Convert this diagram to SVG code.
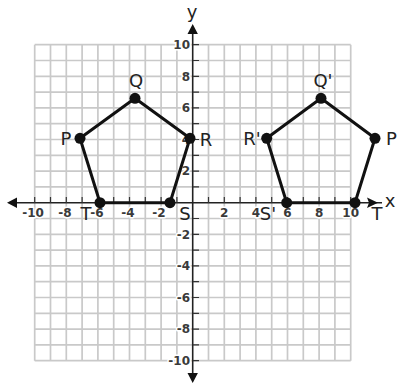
<svg xmlns="http://www.w3.org/2000/svg" width="399" height="388" viewBox="0 0 399 388">
<style>
.grid{stroke:#c9c9c9;stroke-width:1.7;fill:none}
.axis{stroke:#222;stroke-width:1.6;fill:none}
.tick{stroke:#333;stroke-width:1.2}
.num{font-family:"DejaVu Sans",sans-serif;font-size:12px;font-weight:bold;fill:#3a3a3a;stroke:#fff;stroke-width:3;paint-order:stroke;stroke-linejoin:round}
.lbl{font-family:"DejaVu Sans","Liberation Sans",sans-serif;font-size:18px;fill:#222}
.edge{stroke:#111;stroke-width:3;fill:none;stroke-linejoin:round}
.dot{fill:#111}
</style>
<rect width="399" height="388" fill="#fff"/>
<g id="grid">
<path class="grid" d="M34.7 44.7V360.7M50.5 44.7V360.7M66.3 44.7V360.7M82.1 44.7V360.7M97.9 44.7V360.7M113.7 44.7V360.7M129.5 44.7V360.7M145.3 44.7V360.7M161.1 44.7V360.7M176.9 44.7V360.7M208.5 44.7V360.7M224.3 44.7V360.7M240.1 44.7V360.7M255.9 44.7V360.7M271.7 44.7V360.7M287.5 44.7V360.7M303.3 44.7V360.7M319.1 44.7V360.7M334.9 44.7V360.7M350.7 44.7V360.7M34.7 44.7H350.7M34.7 60.5H350.7M34.7 76.3H350.7M34.7 92.1H350.7M34.7 107.9H350.7M34.7 123.7H350.7M34.7 139.5H350.7M34.7 155.3H350.7M34.7 171.1H350.7M34.7 186.9H350.7M34.7 218.5H350.7M34.7 234.3H350.7M34.7 250.1H350.7M34.7 265.9H350.7M34.7 281.7H350.7M34.7 297.5H350.7M34.7 313.3H350.7M34.7 329.1H350.7M34.7 344.9H350.7M34.7 360.7H350.7"/>
</g>
<g id="axes">
<path class="axis" d="M14 202.7H382M192.7 32V375"/>
<path d="M7 202.7L17 197.5L17 207.9Z M378 202.7L367 197.5L369 202.7L367 207.9Z M192.7 24L187.5 34L197.9 34Z M192.7 383L187.5 373L197.9 373Z" fill="#111"/>
<path class="tick" d="M34.7 197V203M50.5 197V203M66.3 197V203M82.1 197V203M97.9 197V203M113.7 197V203M129.5 197V203M145.3 197V203M161.1 197V203M176.9 197V203M208.5 197V203M224.3 197V203M240.1 197V203M255.9 197V203M271.7 197V203M287.5 197V203M303.3 197V203M319.1 197V203M334.9 197V203M350.7 197V203M192.7 44.7H199M192.7 60.5H199M192.7 76.3H199M192.7 92.1H199M192.7 107.9H199M192.7 123.7H199M192.7 139.5H199M192.7 155.3H199M192.7 171.1H199M192.7 186.9H199M192.7 218.5H199M192.7 234.3H199M192.7 250.1H199M192.7 265.9H199M192.7 281.7H199M192.7 297.5H199M192.7 313.3H199M192.7 329.1H199M192.7 344.9H199M192.7 360.7H199"/>
<text class="lbl" x="192" y="18" text-anchor="middle" font-size="17">y</text>
<text class="lbl" x="390" y="207" text-anchor="middle" font-size="16">x</text>
<g text-anchor="middle">
<text class="num" x="33" y="217">-10</text>
<text class="num" x="65" y="217">-8</text>
<text class="num" x="97" y="217">-6</text>
<text class="num" x="128" y="217">-4</text>
<text class="num" x="159" y="217">-2</text>
<text class="num" x="224.3" y="217">2</text>
<text class="num" x="255.9" y="217">4</text>
<text class="num" x="287.5" y="217">6</text>
<text class="num" x="319.1" y="217">8</text>
<text class="num" x="350.7" y="217">10</text>
</g>
<g text-anchor="end">
<text class="num" x="190" y="49">10</text>
<text class="num" x="190" y="80.5">8</text>
<text class="num" x="190" y="112">6</text>
<text class="num" x="190" y="143.5">4</text>
<text class="num" x="190" y="175">2</text>
<text class="num" x="190" y="238.5">-2</text>
<text class="num" x="190" y="270">-4</text>
<text class="num" x="190" y="301.5">-6</text>
<text class="num" x="190" y="333">-8</text>
<text class="num" x="190" y="365">-10</text>
</g>
</g>
<g id="connectors">
<polygon class="edge" points="80,138.3 135,98.3 190,138.3 170,202.7 100,202.7"/>
<polygon class="edge" points="266.7,138.3 321,98.3 375,138.3 355,202.7 286.7,202.7"/>
</g>
<g id="P"><circle class="dot" cx="80" cy="138.3" r="5.5"/><text class="lbl" x="66" y="144.5" text-anchor="middle">P</text></g>
<g id="Q"><circle class="dot" cx="135" cy="98.3" r="5.5"/><text class="lbl" x="136" y="86.5" text-anchor="middle">Q</text></g>
<g id="R"><circle class="dot" cx="190" cy="138.3" r="5.5"/><text class="lbl" x="206" y="145.5" text-anchor="middle">R</text></g>
<g id="S"><circle class="dot" cx="170" cy="202.7" r="5.5"/><text class="lbl" x="185" y="219.5" text-anchor="middle" font-size="19">S</text></g>
<g id="T"><circle class="dot" cx="100" cy="202.7" r="5.5"/><text class="lbl" x="86" y="219.5" text-anchor="middle" font-size="19">T</text></g>
<g id="R2"><circle class="dot" cx="266.7" cy="138.3" r="5.5"/><text class="lbl" x="252" y="144.5" text-anchor="middle">R'</text></g>
<g id="Q2"><circle class="dot" cx="321" cy="98.3" r="5.5"/><text class="lbl" x="323" y="86.5" text-anchor="middle">Q'</text></g>
<g id="P2"><circle class="dot" cx="375" cy="138.3" r="5.5"/><text class="lbl" x="386" y="144.5">P</text></g>
<g id="T2"><circle class="dot" cx="355" cy="202.7" r="5.5"/><text class="lbl" x="377" y="219.5" text-anchor="middle" font-size="19" fill="#6a6440">T</text></g>
<g id="S2"><circle class="dot" cx="286.7" cy="202.7" r="5.5"/><text class="lbl" x="268" y="219.5" text-anchor="middle" font-size="19">S'</text></g>
</svg>
